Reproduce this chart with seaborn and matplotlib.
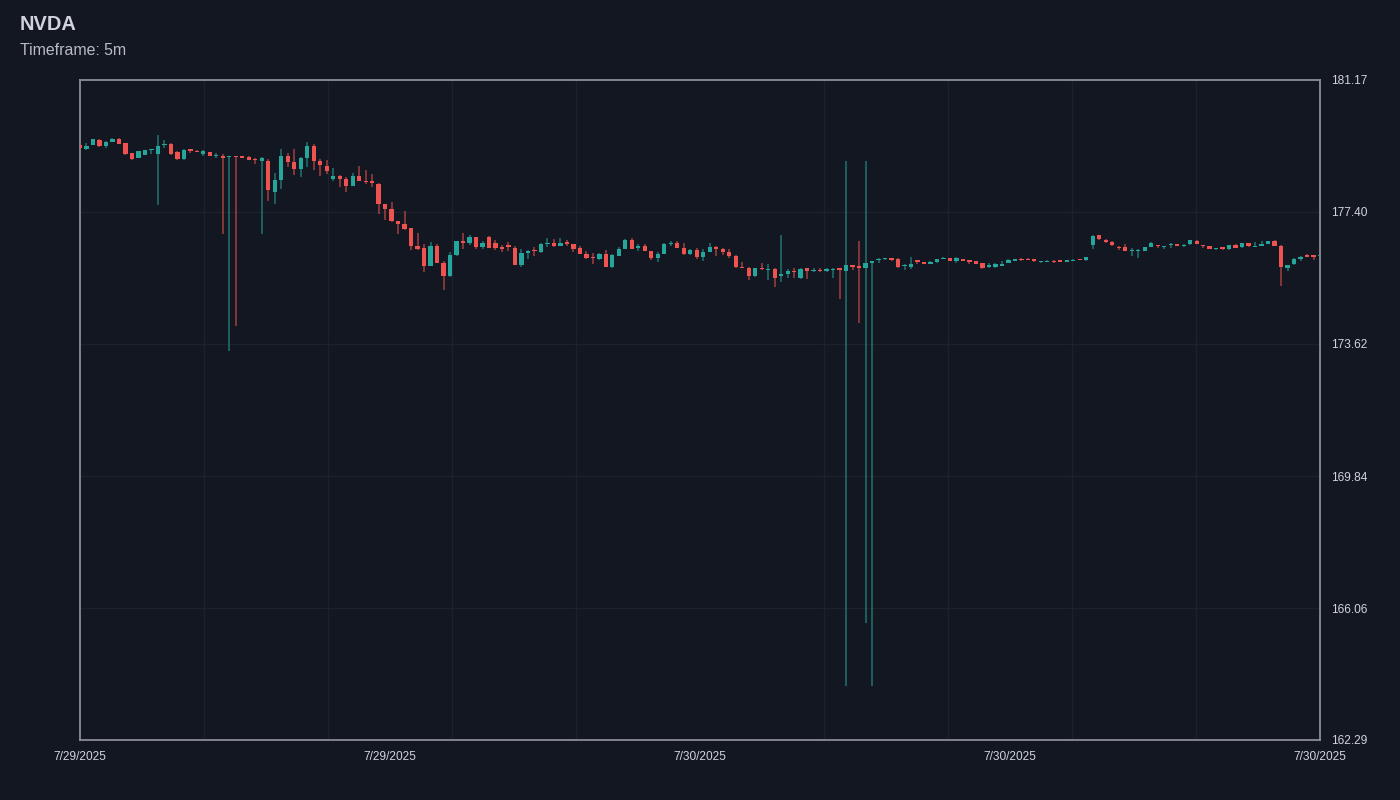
import matplotlib
matplotlib.use("Agg")
import matplotlib.pyplot as plt
import seaborn as sns
import numpy as np

# ---------------- data ----------------
title = "NVDA"
subtitle = "Timeframe: 5m"
x_tick_labels = ["7/29/2025", "7/29/2025", "7/30/2025", "7/30/2025", "7/30/2025"]
y_ticks = [162.29, 166.06, 169.84, 173.62, 177.40, 181.17]

opens = [
    179.31, 179.20, 179.31, 179.46, 179.28, 179.41, 179.47, 179.36, 179.07, 178.95,
    179.03, 179.16, 179.06, 179.30, 179.34, 179.10, 178.91, 179.20, 179.15, 179.04,
    179.10, 178.99, 179.00, 178.96, 179.00, 179.00, 178.97, 178.92, 178.86, 178.85,
    177.97, 178.31, 179.00, 178.83, 178.62, 178.95, 179.28, 178.85, 178.72, 178.34,
    178.43, 178.34, 178.15, 178.42, 178.28, 178.27, 178.20, 177.62, 177.49, 177.14,
    177.05, 176.93, 176.42, 176.36, 175.86, 176.42, 175.94, 175.55, 176.16, 176.56,
    176.51, 176.68, 176.40, 176.69, 176.50, 176.38, 176.45, 176.36, 175.88, 176.22,
    176.29, 176.24, 176.48, 176.51, 176.42, 176.53, 176.47, 176.36, 176.19, 176.09,
    176.04, 176.18, 175.83, 176.14, 176.34, 176.59, 176.36, 176.41, 176.28, 176.07,
    176.19, 176.48, 176.50, 176.37, 176.19, 176.31, 176.10, 176.26, 176.39, 176.34,
    176.24, 176.14, 175.83, 175.80, 175.55, 175.80, 175.74, 175.76, 175.55, 175.63,
    175.71, 175.51, 175.78, 175.71, 175.74, 175.71, 175.73, 175.78, 175.71, 175.87,
    175.84, 175.79, 175.93, 176.01, 176.04, 176.07, 176.05, 175.86, 175.83, 176.02,
    175.95, 175.91, 175.97, 176.06, 176.09, 176.00, 176.06, 176.01, 175.99, 175.94,
    175.81, 175.82, 175.86, 175.94, 175.99, 176.06, 176.06, 176.04, 175.96, 175.97,
    176.00, 176.01, 175.97, 176.00, 176.05, 176.01, 176.45, 176.73, 176.60, 176.54,
    176.40, 176.39, 176.28, 176.27, 176.28, 176.40, 176.45, 176.39, 176.46, 176.47,
    176.41, 176.47, 176.57, 176.45, 176.41, 176.34, 176.39, 176.33, 176.46, 176.38,
    176.50, 176.39, 176.42, 176.49, 176.57, 176.43, 175.80, 175.90, 176.04, 176.16,
    176.14, 176.14,
]
closes = [
    179.23, 179.29, 179.47, 179.28, 179.41, 179.48, 179.35, 179.06, 178.91, 179.13,
    179.17, 179.20, 179.27, 179.34, 179.05, 178.91, 179.18, 179.14, 179.12, 179.14,
    179.00, 179.03, 178.95, 179.00, 178.96, 178.94, 178.89, 178.88, 178.95, 178.01,
    178.31, 179.00, 178.83, 178.62, 178.95, 179.28, 178.86, 178.74, 178.57, 178.43,
    178.34, 178.15, 178.42, 178.28, 178.25, 178.23, 177.62, 177.49, 177.13, 177.06,
    176.92, 176.43, 176.34, 175.86, 176.42, 175.94, 175.57, 176.17, 176.56, 176.52,
    176.68, 176.40, 176.52, 176.37, 176.36, 176.34, 176.39, 175.88, 176.22, 176.27,
    176.27, 176.48, 176.52, 176.42, 176.52, 176.49, 176.34, 176.19, 176.07, 176.07,
    176.18, 175.83, 176.16, 176.34, 176.59, 176.34, 176.41, 176.28, 176.07, 176.19,
    176.47, 176.50, 176.37, 176.19, 176.31, 176.10, 176.26, 176.38, 176.34, 176.24,
    176.14, 175.83, 175.79, 175.57, 175.78, 175.77, 175.77, 175.51, 175.61, 175.71,
    175.67, 175.77, 175.71, 175.74, 175.71, 175.75, 175.77, 175.73, 175.87, 175.81,
    175.79, 175.93, 175.99, 176.04, 176.06, 176.03, 175.81, 175.88, 175.91, 175.95,
    175.91, 175.97, 176.05, 176.08, 175.99, 176.07, 175.99, 175.97, 175.91, 175.80,
    175.88, 175.90, 175.92, 176.02, 176.06, 176.02, 176.02, 175.99, 175.99, 176.00,
    175.96, 175.95, 176.02, 176.03, 176.01, 176.10, 176.71, 176.62, 176.53, 176.44,
    176.36, 176.29, 176.32, 176.32, 176.39, 176.52, 176.41, 176.41, 176.49, 176.43,
    176.46, 176.58, 176.49, 176.42, 176.34, 176.37, 176.33, 176.45, 176.36, 176.51,
    176.41, 176.42, 176.48, 176.56, 176.43, 175.83, 175.87, 176.06, 176.12, 176.12,
    176.12, 176.17,
]
highs = [
    179.34, 179.36, 179.48, 179.49, 179.43, 179.51, 179.51, 179.38, 179.08, 179.15,
    179.18, 179.20, 179.60, 179.45, 179.38, 179.13, 179.20, 179.21, 179.16, 179.17,
    179.11, 179.07, 179.04, 179.00, 179.00, 179.00, 178.99, 178.95, 178.96, 178.90,
    178.52, 179.20, 179.07, 179.20, 178.98, 179.39, 179.34, 178.91, 178.87, 178.64,
    178.45, 178.39, 178.50, 178.71, 178.60, 178.47, 178.22, 177.62, 177.67, 177.14,
    177.43, 176.93, 176.78, 176.48, 176.54, 176.48, 175.99, 176.26, 176.57, 176.78,
    176.74, 176.68, 176.56, 176.71, 176.59, 176.45, 176.53, 176.42, 176.34, 176.31,
    176.38, 176.50, 176.64, 176.61, 176.65, 176.59, 176.48, 176.43, 176.29, 176.21,
    176.21, 176.31, 176.19, 176.40, 176.62, 176.64, 176.47, 176.47, 176.29, 176.24,
    176.50, 176.56, 176.56, 176.50, 176.34, 176.37, 176.33, 176.50, 176.41, 176.37,
    176.34, 176.16, 175.97, 175.83, 175.80, 175.94, 175.91, 175.78, 176.74, 175.76,
    175.78, 175.80, 175.79, 175.78, 175.78, 175.78, 175.78, 175.79, 178.85, 175.88,
    176.56, 178.85, 175.99, 176.08, 176.07, 176.09, 176.07, 175.90, 176.11, 176.02,
    175.96, 175.99, 176.06, 176.11, 176.09, 176.10, 176.06, 176.02, 176.00, 175.94,
    175.94, 175.94, 175.99, 176.05, 176.06, 176.07, 176.07, 176.04, 175.99, 176.01,
    176.01, 176.02, 176.03, 176.04, 176.06, 176.11, 176.74, 176.74, 176.61, 176.56,
    176.42, 176.48, 176.37, 176.33, 176.40, 176.54, 176.45, 176.42, 176.50, 176.47,
    176.48, 176.60, 176.58, 176.45, 176.42, 176.37, 176.40, 176.46, 176.47, 176.52,
    176.51, 176.53, 176.56, 176.57, 176.58, 176.45, 175.88, 176.08, 176.14, 176.18,
    176.14, 176.18,
]
lows = [
    179.22, 179.17, 179.30, 179.26, 179.23, 179.39, 179.34, 179.03, 178.88, 178.93,
    179.02, 179.06, 177.59, 179.23, 179.02, 178.87, 178.89, 179.09, 179.10, 179.00,
    178.99, 178.95, 176.76, 173.42, 174.13, 178.93, 178.88, 178.78, 176.76, 177.71,
    177.62, 178.04, 178.67, 178.45, 178.39, 178.67, 178.60, 178.43, 178.48, 178.29,
    178.12, 177.97, 178.14, 178.28, 178.20, 178.10, 177.33, 177.17, 177.12, 176.76,
    176.89, 176.31, 176.31, 175.68, 175.85, 175.93, 175.17, 175.54, 176.14, 176.34,
    176.45, 176.33, 176.34, 176.36, 176.31, 176.26, 176.28, 175.87, 175.83, 176.04,
    176.14, 176.23, 176.40, 176.38, 176.41, 176.42, 176.26, 176.18, 176.04, 175.90,
    176.02, 175.82, 175.80, 176.13, 176.33, 176.33, 176.29, 176.27, 176.02, 175.97,
    176.18, 176.43, 176.36, 176.16, 176.16, 176.05, 176.00, 176.24, 176.14, 176.16,
    176.07, 175.78, 175.78, 175.45, 175.54, 175.73, 175.44, 175.24, 175.40, 175.51,
    175.51, 175.49, 175.49, 175.67, 175.67, 175.67, 175.51, 174.91, 163.83, 175.73,
    174.22, 165.64, 163.83, 175.93, 176.03, 176.00, 175.79, 175.73, 175.77, 175.91,
    175.90, 175.90, 175.94, 176.06, 175.98, 175.94, 175.98, 175.92, 175.90, 175.77,
    175.78, 175.80, 175.85, 175.93, 175.98, 176.00, 176.01, 175.96, 175.94, 175.96,
    175.94, 175.95, 175.97, 175.98, 176.01, 175.99, 176.34, 176.59, 176.50, 176.43,
    176.32, 176.28, 176.14, 176.07, 176.27, 176.39, 176.36, 176.34, 176.37, 176.41,
    176.40, 176.45, 176.48, 176.36, 176.34, 176.30, 176.32, 176.32, 176.36, 176.37,
    176.40, 176.38, 176.41, 176.48, 176.42, 175.28, 175.71, 175.89, 175.99, 176.10,
    176.02, 176.13,
]

# ---------------- style ----------------
BG = "#131722"
UP = "#26a69a"
DOWN = "#ef5350"
TEXT = "#d1d4dc"
FRAME = "#8a8d96"
GRID = "#1d212c"

sns.set_theme(style="dark", rc={
    "figure.facecolor": BG,
    "axes.facecolor": BG,
    "savefig.facecolor": BG,
})
plt.rcParams["font.family"] = ["Liberation Sans", "DejaVu Sans"]

fig = plt.figure(figsize=(14, 8), dpi=100)
ax = fig.add_axes([80 / 1400, 60 / 800, 1240 / 1400, 660 / 800])

o = np.array(opens)
c = np.array(closes)
h = np.array(highs)
l = np.array(lows)
x = np.arange(len(o))
up = c >= o
cols = np.where(up, UP, DOWN)

# wicks
ax.vlines(x, l, h, colors=cols, linewidth=1.1, alpha=0.65, zorder=2)
# bodies
bottom = np.minimum(o, c)
height = np.maximum(np.abs(c - o), 0.03)
ax.bar(x, height, bottom=bottom, width=0.66, color=cols, linewidth=0, zorder=3)

n = len(o)
ax.set_xlim(0, n - 1)
ax.set_ylim(y_ticks[0], y_ticks[-1])

# labelled ticks at quarters, gridlines at tenths
ax.set_xticks(np.linspace(0, n - 1, len(x_tick_labels)))
ax.set_xticklabels(x_tick_labels)
ax.set_xticks(np.linspace(0, n - 1, 11), minor=True)
ax.set_yticks(y_ticks)
ax.set_yticklabels([f"{v:.2f}" for v in y_ticks])
ax.yaxis.tick_right()
ax.grid(False)
ax.grid(True, which="minor", axis="x", color=GRID, linewidth=1.0, zorder=0)
ax.grid(True, which="major", axis="y", color=GRID, linewidth=1.0, zorder=0)
ax.set_axisbelow(True)

ax.tick_params(axis="both", which="both", length=0, colors=TEXT, labelsize=8.6)
ax.tick_params(axis="x", pad=8)
ax.tick_params(axis="y", pad=8)

for side in ["top", "bottom", "left", "right"]:
    ax.spines[side].set_visible(True)
    ax.spines[side].set_color(FRAME)
    ax.spines[side].set_linewidth(1.3)

fig.text(20 / 1400, 1 - 30 / 800, title, color=TEXT, fontsize=14.4,
         fontweight="bold", ha="left", va="baseline")
fig.text(20 / 1400, 1 - 55 / 800, subtitle, color="#b8bbc3", fontsize=11.4,
         ha="left", va="baseline")

fig.savefig("out.png", dpi=100, facecolor=BG)
